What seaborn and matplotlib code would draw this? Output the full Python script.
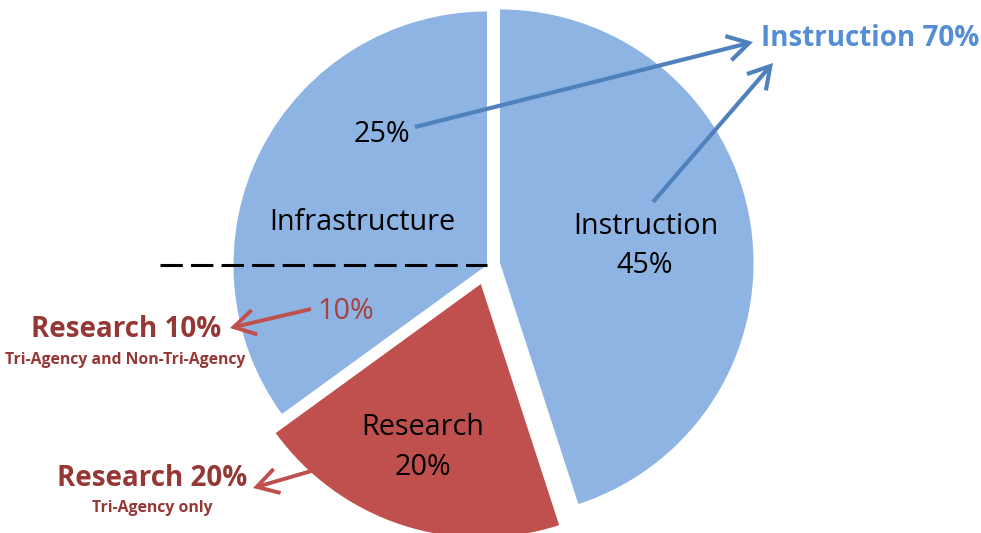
import matplotlib
matplotlib.use("Agg")
import matplotlib.pyplot as plt
import seaborn as sns
from matplotlib.patches import FancyArrowPatch

# ---- data ----
slices = ["Instruction", "Research", "Infrastructure"]
shares = [45, 20, 35]
slice_colors = ["#8EB4E3", "#C0504D", "#8EB4E3"]
explode_frac = [0.052, 0.079, 0.0]
infra_split = ["25%", "10%"]
callouts = ["Instruction 70%", "Research 10%", "Research 20%"]
subnotes = ["Tri-Agency and Non-Tri-Agency", "Tri-Agency only"]

sns.set_theme(style="white")
plt.rcParams["font.family"] = ["Open Sans", "DejaVu Sans"]

W, H = 981, 533
fig = plt.figure(figsize=(W / 100, H / 100), dpi=100)
ax = fig.add_axes([0, 0, 1, 1])


def P(x, y):
    return (x, H - y)


R = 253.5
ax.pie(shares, colors=slice_colors, explode=[e * R for e in explode_frac],
       startangle=90, counterclock=False, center=P(487, 265), radius=R,
       wedgeprops=dict(linewidth=0), frame=True)
ax.set_xlim(0, W)
ax.set_ylim(0, H)
ax.set_aspect("equal")
ax.axis("off")

# dashed divider in infrastructure slice
ax.plot([P(160, 265)[0], P(487, 265)[0]], [P(160, 265)[1], P(487, 265)[1]],
        color="black", lw=2.2, linestyle=(0, (7.3, 2.7)),
        dash_capstyle="butt", zorder=3)

fs = 20.7
black = "#000000"
ax.text(*P(382, 142), infra_split[0], fontsize=fs, ha="center", va="baseline", color=black)
ax.text(*P(362, 230), slices[2], fontsize=fs, ha="center", va="baseline", color=black)
ax.text(*P(646, 234), slices[0], fontsize=fs, ha="center", va="baseline", color=black)
ax.text(*P(645, 273), "%d%%" % shares[0], fontsize=fs, ha="center", va="baseline", color=black)
ax.text(*P(346, 319), infra_split[1], fontsize=fs, ha="center", va="baseline", color="#A8423F")
ax.text(*P(423, 435), slices[1], fontsize=fs, ha="center", va="baseline", color=black)
ax.text(*P(423, 475), "%d%%" % shares[1], fontsize=fs, ha="center", va="baseline", color=black)

dred = "#953735"
bfs = 20
sfs = 11.3
ax.text(*P(870, 46), callouts[0], fontsize=bfs, fontweight="bold", ha="center",
        va="baseline", color="#558ED5")
ax.text(*P(126, 337), callouts[1], fontsize=bfs, fontweight="bold", ha="center",
        va="baseline", color=dred)
ax.text(*P(125, 364), subnotes[0], fontsize=sfs, fontweight="bold", ha="center",
        va="baseline", color=dred)
ax.text(*P(152, 486), callouts[2], fontsize=bfs, fontweight="bold", ha="center",
        va="baseline", color=dred)
ax.text(*P(152, 512), subnotes[1], fontsize=sfs, fontweight="bold", ha="center",
        va="baseline", color=dred)


def arrow(a, b, color, lw):
    ar = FancyArrowPatch(P(*a), P(*b), arrowstyle="->,head_length=0.85,head_width=0.5",
                         mutation_scale=18, color=color, lw=lw, zorder=4,
                         shrinkA=0, shrinkB=0, joinstyle="miter", capstyle="butt")
    ax.add_patch(ar)


blue = "#4F81BD"
red = "#C0504D"
arrow((415, 127), (753, 42), blue, 3.0)
arrow((653, 202), (773, 63), blue, 3.0)
arrow((311, 309), (230, 328), red, 2.8)
arrow((363, 456), (253, 488), red, 2.8)

fig.savefig("out.png", dpi=100)
